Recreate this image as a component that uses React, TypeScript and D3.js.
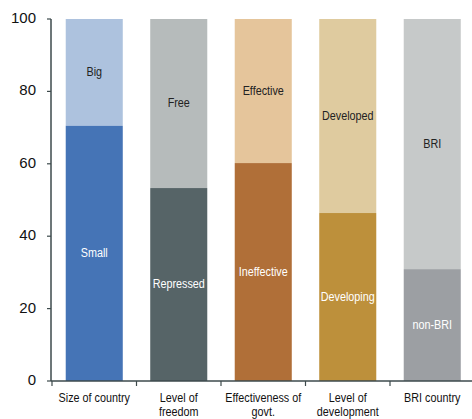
import React from "react";
import * as d3 from "d3";

const categories = ["Size of country", "Level of freedom", "Effectiveness of govt.", "Level of development", "BRI country"];
const categoryLines = [["Size of country"], ["Level of", "freedom"], ["Effectiveness of", "govt."], ["Level of", "development"], ["BRI country"]];
const lowerValues = [70.5, 53.3, 60.2, 46.4, 30.9];
const lowerLabels = ["Small", "Repressed", "Ineffective", "Developing", "non-BRI"];
const upperLabels = ["Big", "Free", "Effective", "Developed", "BRI"];
const lowerColors = ["#4574b6", "#566467", "#b06f38", "#bd903b", "#9c9fa3"];
const upperColors = ["#adc2de", "#b6bbbb", "#e5c59b", "#dfcb9f", "#c6c9c9"];
const yTicks = [0, 20, 40, 60, 80, 100];

const W = 472, H = 419;

function CText(props: { x: number; y: number; fill: string; size: number; children: string; baseline?: string }) {
  const sx = 0.8;
  return (
    <text
      transform={`translate(${props.x},${props.y}) scale(${sx},1)`}
      textAnchor="middle"
      dominantBaseline={props.baseline || "middle"}
      fontFamily="'Liberation Sans', sans-serif"
      fontSize={props.size}
      fill={props.fill}
    >
      {props.children}
    </text>
  );
}

export default function App() {
  const x = d3.scaleBand<string>().domain(categories).range([52, 474.5]).paddingInner(0.325).paddingOuter(0.1625);
  const y = d3.scaleLinear().domain([0, 100]).range([381, 19]);
  const step = x.step();
  const axisColor = "#3d4a4c";
  return (
    <svg width={W} height={H} style={{ position: "absolute", left: 0, top: 0 }}>
      {categories.map((c, i) => {
        const bx = x(c)!;
        const bw = x.bandwidth();
        const v = lowerValues[i];
        return (
          <g key={c}>
            <rect x={bx} y={y(100)} width={bw} height={y(v) - y(100)} fill={upperColors[i]} />
            <rect x={bx} y={y(v)} width={bw} height={y(0) - y(v)} fill={lowerColors[i]} />
            <CText x={bx + bw / 2} y={(y(100) + y(v)) / 2} size={13.5} fill="#222">{upperLabels[i]}</CText>
            <CText x={bx + bw / 2} y={(y(v) + y(0)) / 2} size={13.5} fill="#ffffff">{lowerLabels[i]}</CText>
            {categoryLines[i].map((ln, j) => (
              <CText key={j} x={bx + bw / 2} y={402 + j * 14} size={13.5} fill="#111" baseline="auto">{ln}</CText>
            ))}
          </g>
        );
      })}
      <line x1={51} x2={51} y1={y(100)} y2={y(0)} stroke={axisColor} strokeWidth={1.5} />
      <line x1={51} x2={W} y1={y(0)} y2={y(0)} stroke={axisColor} strokeWidth={1.5} />
      {yTicks.map((t) => (
        <g key={t}>
          <line x1={47} x2={51} y1={y(t)} y2={y(t)} stroke={axisColor} strokeWidth={1.2} />
          <text x={36} y={y(t)} textAnchor="end" dominantBaseline="middle" fontFamily="'Liberation Sans', sans-serif" fontSize={15} fill="#111">{t}</text>
        </g>
      ))}
      {d3.range(categories.length + 1).map((k) => (
        <line key={k} x1={52 + k * step} x2={52 + k * step} y1={y(0)} y2={y(0) + 5} stroke={axisColor} strokeWidth={1.2} />
      ))}
    </svg>
  );
}
